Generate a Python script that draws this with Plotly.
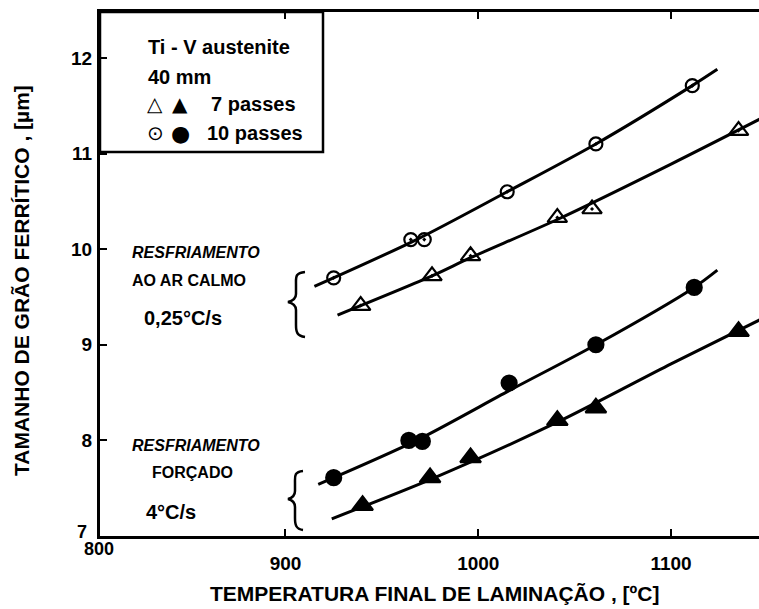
import plotly.graph_objects as go

# Ti-V austenite, 40 mm plate: ferrite grain size vs. finish rolling temperature

# 10 passes, still-air cooling (0.25 °C/s)
t_10p_air = [925, 965, 972, 1015, 1061, 1111]
d_10p_air = [9.70, 10.10, 10.10, 10.60, 11.10, 11.71]
# 7 passes, still-air cooling
t_7p_air = [939, 976, 996, 1041, 1059, 1135]
d_7p_air = [9.41, 9.72, 9.93, 10.33, 10.42, 11.24]
# 10 passes, forced cooling (4 °C/s)
t_10p_forced = [925, 964, 971, 1016, 1061, 1112]
d_10p_forced = [7.61, 8.00, 7.99, 8.60, 9.00, 9.60]
# 7 passes, forced cooling
t_7p_forced = [940, 975, 996, 1041, 1061, 1135]
d_7p_forced = [7.32, 7.61, 7.82, 8.21, 8.34, 9.14]

# hand-fitted trend curves through each series
fit_t_10p_air = [915, 968, 1015, 1061, 1111, 1124]
fit_d_10p_air = [9.61, 10.10, 10.60, 11.10, 11.71, 11.88]
fit_t_7p_air = [927, 976, 996, 1041, 1100, 1146]
fit_d_7p_air = [9.31, 9.72, 9.91, 10.31, 10.89, 11.36]
fit_t_10p_forced = [917, 968, 1016, 1061, 1112, 1124]
fit_d_10p_forced = [7.54, 8.00, 8.52, 9.00, 9.60, 9.78]
fit_t_7p_forced = [924, 975, 1041, 1100, 1146]
fit_d_7p_forced = [7.18, 7.59, 8.19, 8.80, 9.26]

x_ticks = [900, 1000, 1100]
y_ticks = [8, 9, 10, 11, 12]

X_RANGE = [803.8, 1145.6]
Y_RANGE = [7.0, 12.48]

# page geometry of the plotting area (pixels)
W_PAGE, H_PAGE = 759, 609
L, R, T, B = 100, 759, 12, 536
PW, PH = R - L, B - T


def fx(p):
    return (p - L) / PW


def fy(p):
    return (B - p) / PH


HAND = "Liberation Sans, Arial, sans-serif"
SANS = "Liberation Sans, Arial, sans-serif"
SYM = "DejaVu Sans, sans-serif"

fig = go.Figure()

curves = [
    (fit_t_10p_air, fit_d_10p_air),
    (fit_t_7p_air, fit_d_7p_air),
    (fit_t_10p_forced, fit_d_10p_forced),
    (fit_t_7p_forced, fit_d_7p_forced),
]
for cx, cy in curves:
    fig.add_trace(go.Scatter(
        x=cx, y=cy, mode="lines",
        line=dict(color="black", width=3, shape="spline", smoothing=0.8),
        hoverinfo="skip", showlegend=False,
    ))

series = [
    ("10 passes, ar calmo", t_10p_air, d_10p_air, "circle-open-dot", 13),
    ("7 passes, ar calmo", t_7p_air, d_7p_air, "triangle-up-open-dot", 17),
    ("10 passes, forçado", t_10p_forced, d_10p_forced, "circle", 15),
    ("7 passes, forçado", t_7p_forced, d_7p_forced, "triangle-up", 18),
]
for name, sx, sy, sym, size in series:
    fig.add_trace(go.Scatter(
        x=sx, y=sy, mode="markers", name=name,
        marker=dict(symbol=sym, size=size, color="black",
                    line=dict(color="black", width=2.2)),
        showlegend=False,
    ))

# legend box in the upper-left corner
shapes = [dict(type="rect", xref="paper", yref="paper",
               x0=0, x1=fx(323), y0=fy(152), y1=1,
               line=dict(color="black", width=2.5), fillcolor="white", layer="below")]


def brace(x_end, x_mid, x_tip, y_top, y_tip, y_bot):
    pts = [
        ("M", [(x_end, y_top)]),
        ("C", [(x_mid - 1, y_top + 1), (x_mid, y_top + 5), (x_mid, y_top + 12)]),
        ("L", [(x_mid, y_tip - 8)]),
        ("C", [(x_mid, y_tip - 3), (x_tip + 4, y_tip - 1), (x_tip, y_tip)]),
        ("C", [(x_tip + 4, y_tip + 1), (x_mid, y_tip + 3), (x_mid, y_tip + 8)]),
        ("L", [(x_mid, y_bot - 12)]),
        ("C", [(x_mid, y_bot - 5), (x_mid + 1, y_bot - 1), (x_end, y_bot)]),
    ]
    s = ""
    for cmd, ps in pts:
        s += cmd + " " + ", ".join(f"{fx(a):.5f},{fy(b):.5f}" for a, b in ps) + " "
    return dict(type="path", xref="paper", yref="paper", path=s.strip(),
                line=dict(color="black", width=2.5))


shapes.append(brace(305, 296, 288, 272, 302, 337))
shapes.append(brace(303, 295, 288, 471, 499, 530))

ann = []


def text(t, x, y, size, font=HAND, xanchor="left", angle=0):
    ann.append(dict(text=t, x=fx(x), y=fy(y), xref="paper", yref="paper",
                    xanchor=xanchor, yanchor="middle", showarrow=False,
                    textangle=angle, font=dict(family=font, size=size, color="black")))


# legend contents
text("<b>Ti - V austenite</b>", 146, 47, 20)
text("<b>40 mm</b>", 146, 77, 20)
text("△", 155, 104, 20, font=SYM, xanchor="center")
text("▲", 180, 104, 20, font=SYM, xanchor="center")
text("<b>7 passes</b>", 209, 104, 20)
text("⊙", 155, 133, 20, font=SYM, xanchor="center")
text("●", 180, 133, 22, font=SYM, xanchor="center")
text("<b>10 passes</b>", 205, 133, 20)

# cooling condition labels
text("<b><i>RESFRIAMENTO</i></b>", 130, 253, 16, font=SANS)
text("<b>AO AR CALMO</b>", 130, 280, 16, font=SANS)
text("<b>0,25°C/s</b>", 142, 318, 20)
text("<b><i>RESFRIAMENTO</i></b>", 130, 445, 16, font=SANS)
text("<b>FORÇADO</b>", 192, 472, 16, font=SANS, xanchor="center")
text("<b>4°C/s</b>", 144, 512, 20)

# corner labels of the axes
text("<b>7</b>", 82, 532, 18, xanchor="center")
text("<b>800</b>", 99, 549, 18, xanchor="center")

# axis titles
text("<b>TEMPERATURA FINAL DE LAMINAÇÃO , [ºC]</b>", 434, 593, 21, font=SANS, xanchor="center")
text("<b>TAMANHO DE GRÃO FERRÍTICO , [µm]</b>", 22, 281, 21, font=SANS, xanchor="center", angle=-90)

fig.update_layout(
    width=W_PAGE, height=H_PAGE,
    margin=dict(l=L, r=W_PAGE - R, t=T, b=H_PAGE - B, pad=0),
    paper_bgcolor="white", plot_bgcolor="white",
    shapes=shapes, annotations=ann,
    xaxis=dict(range=X_RANGE, tickvals=x_ticks, ticktext=[f"<b>{v}</b>" for v in x_ticks],
               showgrid=False, zeroline=False, showline=True, linecolor="black", linewidth=3,
               mirror="ticks", ticks="inside", ticklen=7, tickwidth=2, tickcolor="black",
               ticklabelstandoff=8,
               tickfont=dict(family=HAND, size=19, color="black")),
    yaxis=dict(range=Y_RANGE, tickvals=y_ticks, ticktext=[f"<b>{v}</b>" for v in y_ticks],
               showgrid=False, zeroline=False, showline=True, linecolor="black", linewidth=3,
               ticks="inside", ticklen=7, tickwidth=2, tickcolor="black",
               ticklabelstandoff=1,
               tickfont=dict(family=HAND, size=19, color="black")),
)

fig.write_html("out.html")
